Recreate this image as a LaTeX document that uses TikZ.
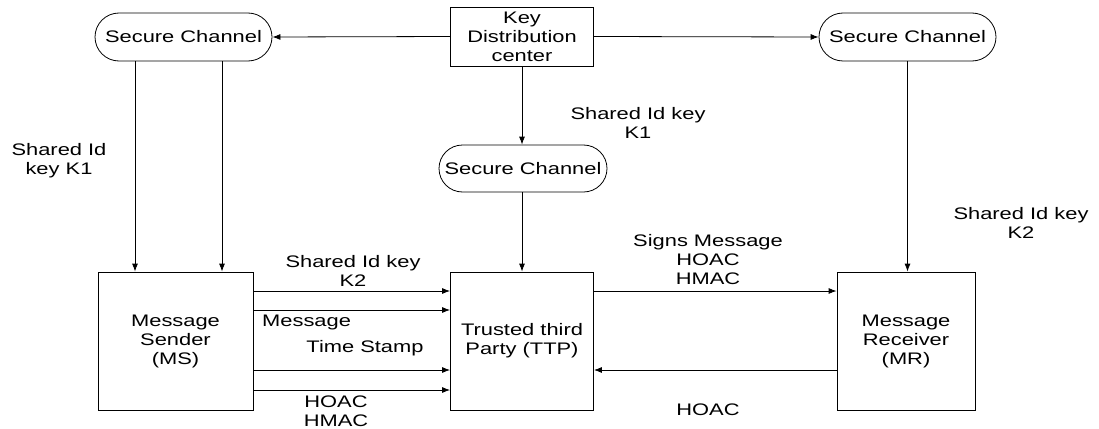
\documentclass[tikz,border=0pt]{standalone}
\usepackage{fontspec}
\setmainfont{Liberation Sans}[FakeStretch=1.31]
\usetikzlibrary{shapes.misc,arrows.meta}
\begin{document}
\begin{tikzpicture}[x=1pt,y=-1pt,
  every node/.style={font=\fontsize{16.7}{19}\selectfont, inner sep=0pt, align=center, text=black},
  chan/.style={draw, rounded rectangle, minimum width=177pt, minimum height=48pt, line width=0.8pt},
  box/.style={draw, rectangle, line width=0.8pt},
  arr/.style={draw, line width=0.8pt, -{Latex[length=8pt,width=6pt]}},
  lbl/.style={}]
\useasboundingbox (0,0) rectangle (1099,428);
\node[box, minimum width=143pt, minimum height=59pt] (kdc) at (522,36.5) {Key\\Distribution\\center};
\node[chan] (sc1) at (183.5,37) {Secure Channel};
\node[chan] (sc3) at (907.5,37) {Secure Channel};
\node[chan, minimum width=168pt, minimum height=47pt] (sc2) at (523,168.5) {Secure Channel};
\node[box, minimum width=155pt, minimum height=138pt] (ms) at (175.5,341) {Message\\Sender\\(MS)};
\node[box, minimum width=143pt, minimum height=138pt] (ttp) at (522,341) {Trusted third\\Party (TTP)};
\node[box, minimum width=138pt, minimum height=138pt] (mr) at (906,341) {Message\\Receiver\\(MR)};

\draw[arr] (kdc.west) -- (sc1.east);
\draw[arr] (kdc.east) -- (sc3.west);
\draw[arr] (kdc.south) -- (kdc.south |- sc2.north);
\draw[arr] (ttp.north |- sc2.south) -- (ttp.north);
\draw[arr] (sc3.south) -- (sc3.south |- mr.north);
\coordinate (l1) at (135,0);
\coordinate (l2) at (222,0);
\draw[arr] (l1 |- sc1.south) -- (l1 |- ms.north);
\draw[arr] (l2 |- sc1.south) -- (l2 |- ms.north);
\coordinate (y1) at (0,291);
\coordinate (y2) at (0,310);
\coordinate (y3) at (0,370);
\coordinate (y4) at (0,390);
\draw[arr] (ms.east |- y1) -- (ttp.west |- y1);
\draw[arr] (ms.east |- y2) -- (ttp.west |- y2);
\draw[arr] (ms.east |- y3) -- (ttp.west |- y3);
\draw[arr] (ms.east |- y4) -- (ttp.west |- y4);
\draw[arr] (ttp.east |- y1) -- (mr.west |- y1);
\draw[arr] (mr.west |- y3) -- (ttp.east |- y3);

\node[lbl] (t1) at (59,161) {Shared Id\\key K1};
\node[lbl] (t2) at (638,123) {Shared Id key\\K1};
\node[lbl] (t3) at (1021,223) {Shared Id key\\K2};
\node[lbl] (t4) at (353,271) {Shared Id key\\K2};
\node[lbl, anchor=west] (t5) at (262,322) {Message};
\node[lbl] (t6) at (365,348) {Time Stamp};
\node[lbl] (t7) at (336,411) {HOAC\\HMAC};
\node[lbl] (t8) at (708,260) {Signs Message\\HOAC\\HMAC};
\node[lbl] (t9) at (708,410) {HOAC};
\end{tikzpicture}
\end{document}
